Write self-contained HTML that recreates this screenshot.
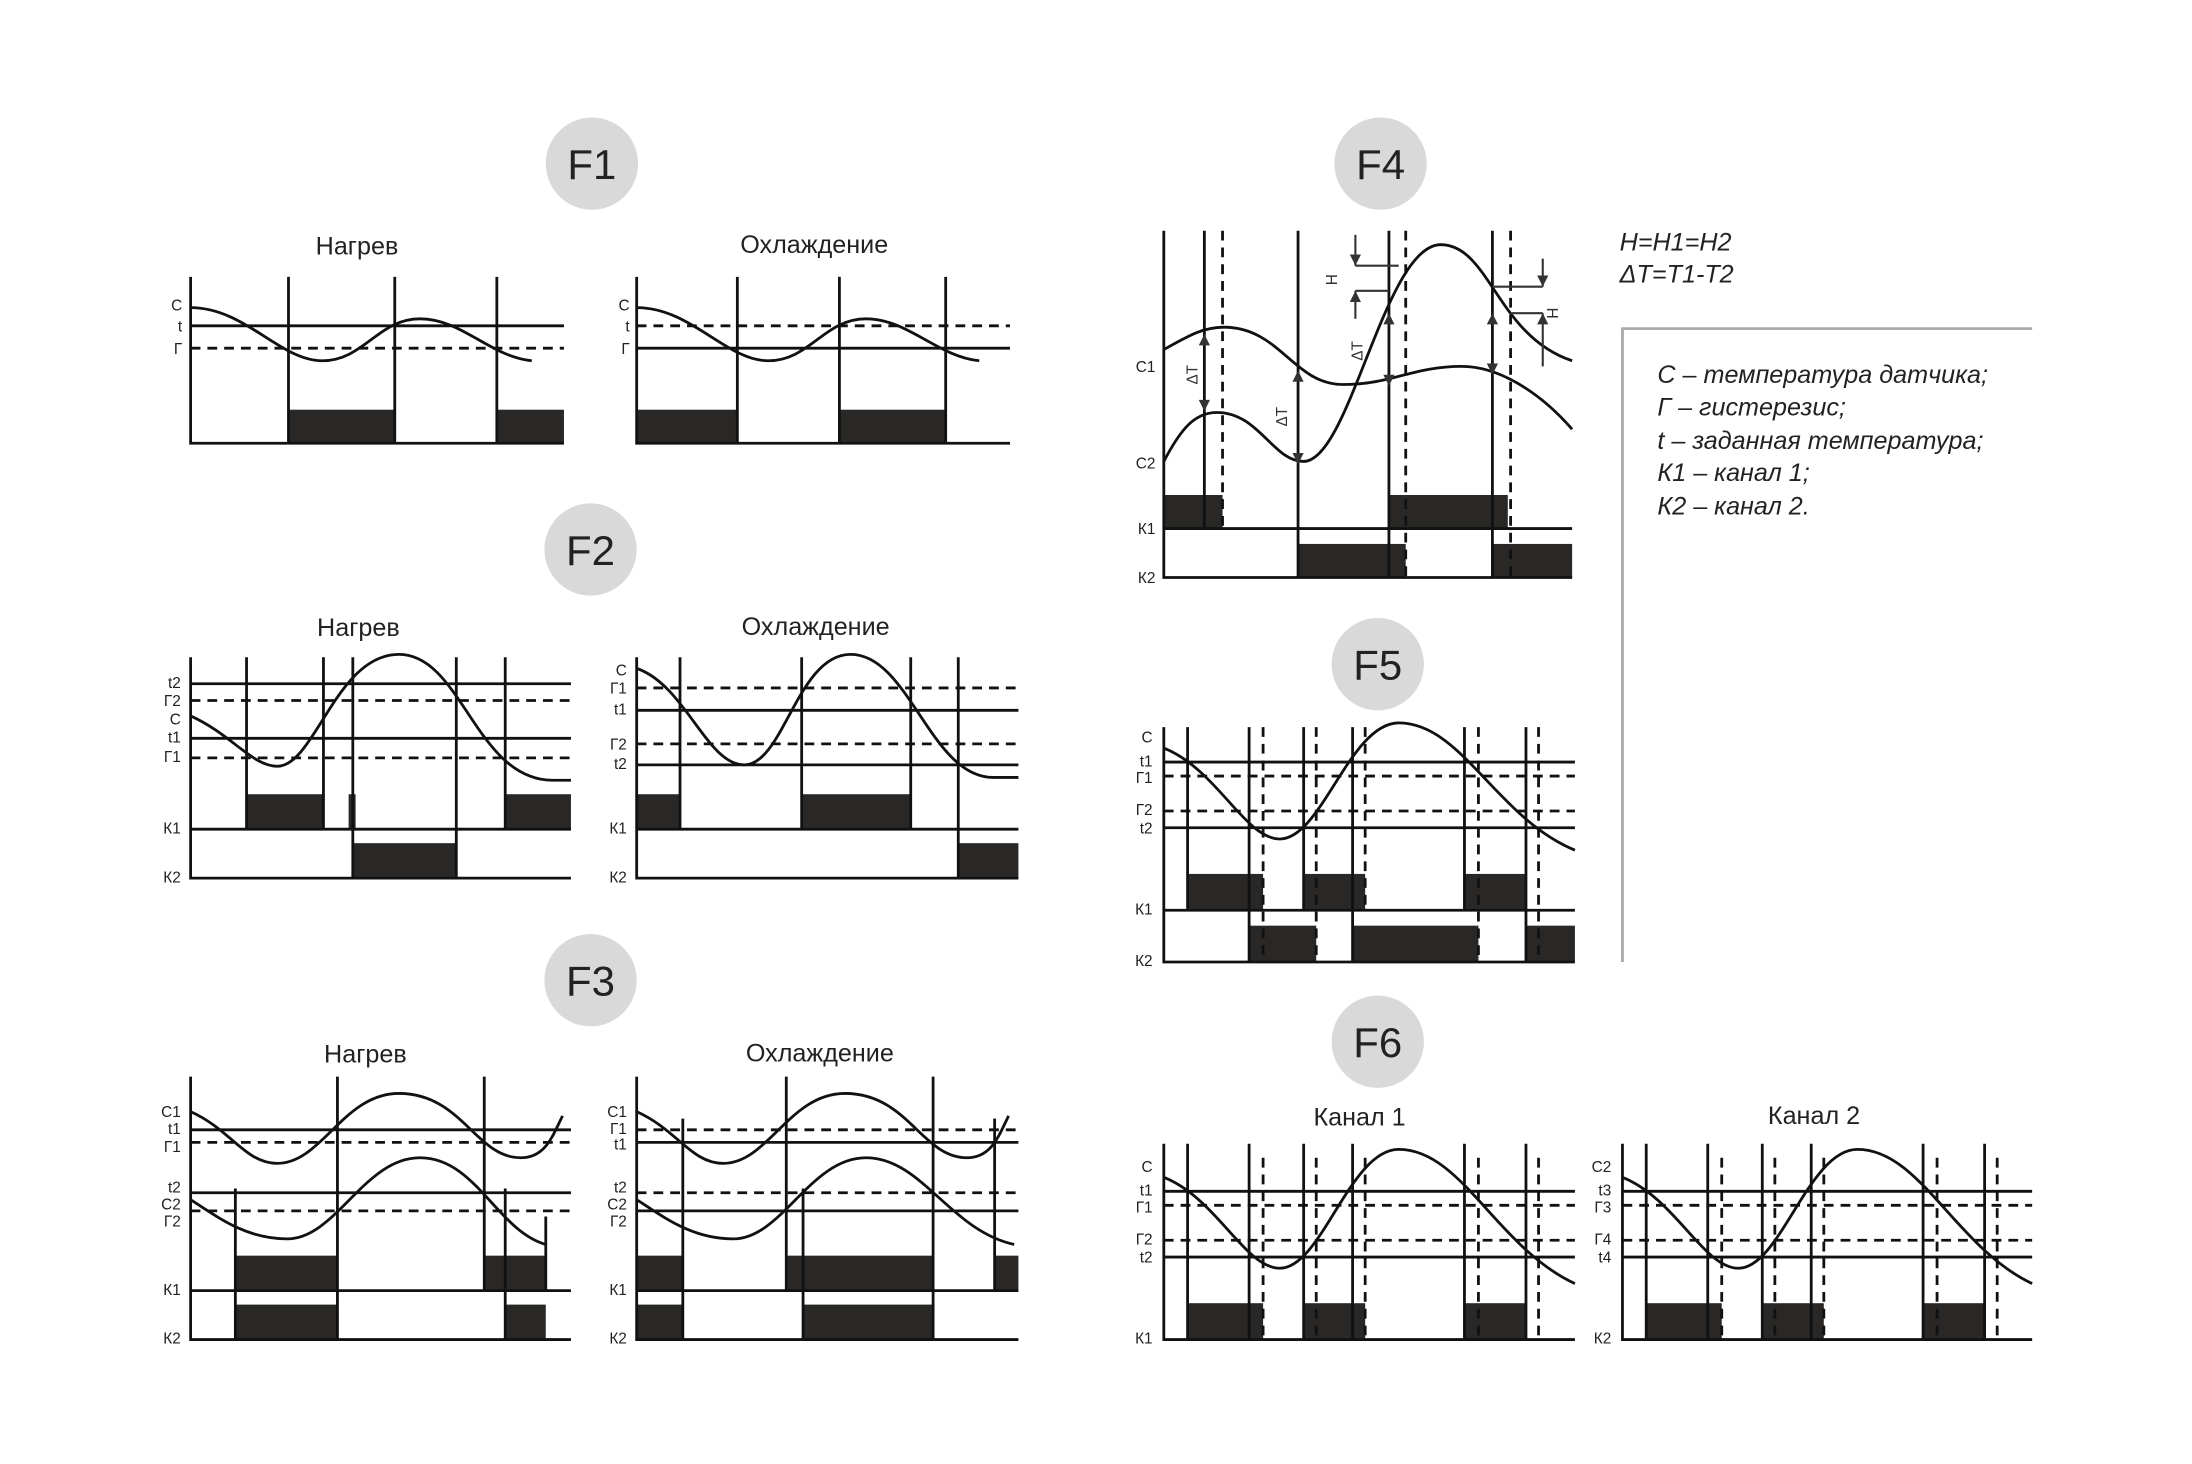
<!DOCTYPE html>
<html><head><meta charset="utf-8"><style>html,body{margin:0;padding:0;background:#fff}svg{display:block}</style></head><body>
<svg width="2192" height="1464" viewBox="0 0 1567 1047" xmlns="http://www.w3.org/2000/svg" font-family="Liberation Sans, sans-serif">
<g fill="#d9d9d9">
<circle cx="423" cy="117" r="33"/><circle cx="422" cy="393" r="33"/><circle cx="422" cy="701" r="33"/>
<circle cx="987" cy="117" r="33"/><circle cx="985" cy="475" r="33"/><circle cx="985" cy="745" r="33"/>
</g>
<g font-size="30" fill="#222" text-anchor="middle">
<text x="423" y="128">F1</text><text x="422" y="404">F2</text><text x="422" y="712">F3</text>
<text x="987" y="128">F4</text><text x="985" y="486">F5</text><text x="985" y="756">F6</text>
</g>
<g font-size="18" fill="#222" text-anchor="middle">
<text x="255" y="182">Нагрев</text><text x="582" y="181">Охлаждение</text>
<text x="256" y="455">Нагрев</text><text x="583" y="454">Охлаждение</text>
<text x="261" y="760">Нагрев</text><text x="586" y="759">Охлаждение</text>
<text x="972" y="805">Канал 1</text><text x="1297" y="804">Канал 2</text>
</g>
<g font-size="11" fill="#222" text-anchor="end">
<text x="130" y="222">C</text><text x="130" y="237">t</text><text x="130" y="253">Г</text>
<text x="450" y="222">C</text><text x="450" y="237">t</text><text x="450" y="253">Г</text>
<text x="129" y="492">t2</text><text x="129" y="505">Г2</text><text x="129" y="518">C</text><text x="129" y="531">t1</text><text x="129" y="545">Г1</text><text x="129" y="596">К1</text><text x="129" y="631">К2</text>
<text x="448" y="483">C</text><text x="448" y="496">Г1</text><text x="448" y="511">t1</text><text x="448" y="536">Г2</text><text x="448" y="550">t2</text><text x="448" y="596">К1</text><text x="448" y="631">К2</text>
<text x="129" y="799">C1</text><text x="129" y="811">t1</text><text x="129" y="824">Г1</text><text x="129" y="853">t2</text><text x="129" y="865">C2</text><text x="129" y="877">Г2</text><text x="129" y="926">К1</text><text x="129" y="961">К2</text>
<text x="448" y="799">C1</text><text x="448" y="811">Г1</text><text x="448" y="822">t1</text><text x="448" y="853">t2</text><text x="448" y="865">C2</text><text x="448" y="877">Г2</text><text x="448" y="926">К1</text><text x="448" y="961">К2</text>
<text x="826" y="266">C1</text><text x="826" y="335">C2</text><text x="826" y="382">К1</text><text x="826" y="417">К2</text>
<text x="824" y="531">C</text><text x="824" y="548">t1</text><text x="824" y="560">Г1</text><text x="824" y="583">Г2</text><text x="824" y="596">t2</text><text x="824" y="654">К1</text><text x="824" y="691">К2</text>
<text x="824" y="838">C</text><text x="824" y="855">t1</text><text x="824" y="867">Г1</text><text x="824" y="890">Г2</text><text x="824" y="903">t2</text><text x="824" y="961">К1</text>
<text x="1152" y="838">C2</text><text x="1152" y="855">t3</text><text x="1152" y="867">Г3</text><text x="1152" y="890">Г4</text><text x="1152" y="903">t4</text><text x="1152" y="961">К2</text>
</g>
<g font-size="18" fill="#222" font-style="italic">
<text x="1158" y="179">H=H1=H2</text><text x="1158" y="202">ΔT=T1-T2</text>
<text x="1185" y="274">С – температура датчика;</text>
<text x="1185" y="297">Г – гистерезис;</text>
<text x="1185" y="321">t – заданная температура;</text>
<text x="1185" y="344">К1 – канал 1;</text>
<text x="1185" y="368">К2 – канал 2.</text>
</g>
<path d="M1160,688 V235 H1453" fill="none" stroke="#aaa" stroke-width="2"/>

<g fill="#2a2826">
<rect x="206" y="293" width="76" height="24"/><rect x="355" y="293" width="48" height="24"/>
<rect x="455" y="293" width="72" height="24"/><rect x="600" y="293" width="76" height="24"/>
<rect x="176" y="568" width="55" height="25"/><rect x="249" y="568" width="5" height="25"/><rect x="361" y="568" width="47" height="25"/>
<rect x="252" y="603" width="74" height="25"/>
<rect x="455" y="568" width="31" height="25"/><rect x="573" y="568" width="78" height="25"/>
<rect x="685" y="603" width="43" height="25"/>
<rect x="168" y="898" width="73" height="25"/><rect x="346" y="898" width="44" height="25"/>
<rect x="168" y="933" width="73" height="25"/><rect x="361" y="933" width="29" height="25"/>
<rect x="455" y="898" width="33" height="25"/><rect x="562" y="898" width="105" height="25"/><rect x="711" y="898" width="17" height="25"/>
<rect x="455" y="933" width="33" height="25"/><rect x="574" y="933" width="93" height="25"/>
<rect x="832" y="354" width="42" height="24"/><rect x="993" y="354" width="85" height="24"/>
<rect x="928" y="389" width="77" height="24"/><rect x="1067" y="389" width="57" height="24"/>
<rect x="849" y="625" width="54" height="26"/><rect x="932" y="625" width="44" height="26"/><rect x="1047" y="625" width="44" height="26"/>
<rect x="893" y="662" width="48" height="26"/><rect x="967" y="662" width="90" height="26"/><rect x="1091" y="662" width="35" height="26"/>
<rect x="849" y="932" width="54" height="26"/><rect x="932" y="932" width="44" height="26"/><rect x="1047" y="932" width="44" height="26"/>
<rect x="1177" y="932" width="54" height="26"/><rect x="1260" y="932" width="44" height="26"/><rect x="1375" y="932" width="44" height="26"/>
</g>

<g fill="none" stroke="#111" stroke-width="2">
<path d="M136,198 V317 H403 M136,233 H403 M206,198 V317 M282,198 V317 M355,198 V317"/>
<path d="M136,220 C175,220 200,258 230,258 C260,258 270,228 300,228 C330,228 350,255 380,258"/>
<path d="M455,198 V317 H722 M455,249 H722 M527,198 V317 M600,198 V317 M676,198 V317"/>
<path d="M455,220 C494,220 519,258 549,258 C579,258 589,228 619,228 C649,228 670,255 700,258"/>
<path d="M136,470 V628 H408 M136,489 H408 M136,528 H408 M136,593 H408 M176,470 V593 M231,470 V593 M252,470 V628 M326,470 V628 M361,470 V593"/>
<path d="M136,512 C165,525 180,548 198,548 C225,548 240,468 285,468 C330,468 340,558 395,558 H408"/>
<path d="M455,470 V628 H728 M455,508 H728 M455,547 H728 M455,593 H728 M486,470 V593 M573,470 V593 M651,470 V593 M685,470 V628"/>
<path d="M455,478 C490,490 505,547 532,547 C560,547 570,468 608,468 C650,468 665,556 710,556 H728"/>
<path d="M136,770 V958 H408 M136,808 H408 M136,853 H408 M136,923 H408 M168,850 V958 M241,770 V958 M346,770 V923 M361,850 V958 M390,870 V923"/>
<path d="M136,795 C165,808 175,832 198,832 C230,832 245,782 285,782 C330,782 340,828 372,828 C390,828 395,812 402,798"/>
<path d="M136,858 C155,870 175,886 205,886 C240,886 260,828 300,828 C340,828 355,880 390,890"/>
<path d="M455,770 V958 H728 M455,817 H728 M455,866 H728 M455,923 H728 M488,800 V958 M562,770 V923 M574,850 V958 M667,770 V958 M711,800 V923"/>
<path d="M455,795 C484,808 494,832 517,832 C549,832 564,782 604,782 C649,782 659,828 691,828 C709,828 714,812 721,798"/>
<path d="M455,858 C474,870 494,886 524,886 C559,886 579,828 619,828 C659,828 679,880 725,890"/>
<path d="M832,165 V413 H1124 M832,378 H1124 M861,165 V378 M928,165 V413 M993,165 V413 M1067,165 V413"/>
<path d="M832,250 C850,240 860,234 875,234 C915,234 925,275 960,275 C995,275 1010,262 1045,262 C1075,262 1105,285 1124,307"/>
<path d="M832,330 C845,305 855,295 870,295 C900,295 910,330 932,330 C965,330 990,175 1030,175 C1065,175 1070,240 1124,258"/>
<path d="M832,520 V688 H1126 M832,545 H1126 M832,592 H1126 M832,651 H1126 M849,520 V651 M893,520 V688 M932,520 V651 M967,520 V688 M1047,520 V651 M1091,520 V688"/>
<path d="M832,535 C870,550 890,600 915,600 C945,600 965,517 1000,517 C1045,517 1070,585 1126,608"/>
<path d="M832,818 V958 H1126 M832,852 H1126 M832,899 H1126 M849,818 V958 M893,818 V958 M932,818 V958 M967,818 V958 M1047,818 V958 M1091,818 V958"/>
<path d="M832,842 C870,857 890,907 915,907 C945,907 965,822 1000,822 C1045,822 1070,892 1126,918"/>
<path d="M1160,818 V958 H1453 M1160,852 H1453 M1160,899 H1453 M1177,818 V958 M1221,818 V958 M1260,818 V958 M1295,818 V958 M1375,818 V958 M1419,818 V958"/>
<path d="M1160,842 C1198,857 1218,907 1243,907 C1273,907 1293,822 1328,822 C1373,822 1398,892 1453,918"/>
</g>
<g fill="none" stroke="#111" stroke-width="2" stroke-dasharray="7,5">
<path d="M136,249 H403 M455,233 H722"/>
<path d="M136,501 H408 M136,542 H408 M455,492 H728 M455,532 H728"/>
<path d="M136,817 H408 M136,866 H408 M455,808 H728 M455,853 H728"/>
<path d="M874,165 V378 M1005,165 V413 M1080,165 V413"/>
<path d="M832,555 H1126 M832,580 H1126 M903,520 V688 M941,520 V688 M976,520 V651 M1057,520 V688 M1100,520 V688"/>
<path d="M832,862 H1126 M832,887 H1126 M903,828 V958 M941,828 V958 M976,828 V958 M1057,828 V958 M1100,828 V958"/>
<path d="M1160,862 H1453 M1160,887 H1453 M1231,828 V958 M1269,828 V958 M1304,828 V958 M1385,828 V958 M1428,828 V958"/>
</g>
<g stroke="#333" stroke-width="1.5" fill="none">
<path d="M969,190 H1000 M969,208 H993 M969,168 V190 M969,208 V228"/>
<path d="M1067,205 H1103 M1080,224 H1103 M1103,185 V205 M1103,224 V262"/>
</g>
<g fill="#333">
<path d="M965,182 L973,182 L969,190 z M965,216 L973,216 L969,208 z"/>
<path d="M1099,197 L1107,197 L1103,205 z M1099,232 L1107,232 L1103,224 z"/>
<path d="M857,247 L865,247 L861,239 z M857,286 L865,286 L861,294 z"/>
<path d="M924,273 L932,273 L928,265 z M924,324 L932,324 L928,332 z"/>
<path d="M989,232 L997,232 L993,224 z M989,268 L997,268 L993,276 z"/>
<path d="M1063,232 L1071,232 L1067,224 z M1063,260 L1071,260 L1067,268 z"/>
</g>
<g font-size="11" fill="#333">
<text transform="translate(856,275) rotate(-90)">ΔT</text>
<text transform="translate(920,305) rotate(-90)">ΔT</text>
<text transform="translate(974,258) rotate(-90)">ΔT</text>
<text transform="translate(956,204) rotate(-90)">H</text>
<text transform="translate(1106,220) rotate(90)">H</text>
</g>
</svg>
</body></html>
